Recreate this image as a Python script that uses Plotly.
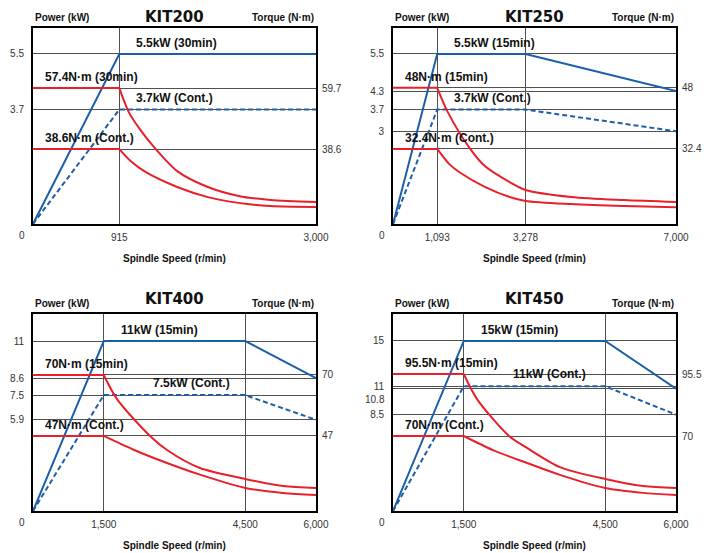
import plotly.graph_objects as go

# ---------------- data ----------------
panel_titles = ["KIT200", "KIT250", "KIT400", "KIT450"]

# KIT200
k200_pw_speed = [0, 915, 3000]
k200_pw_short = [0, 5.5, 5.5]
k200_pw_cont = [0, 3.7, 3.7]
k200_tq_short_speed = [0, 915, 1014, 1132, 1290, 1528, 1854, 2180, 2516, 3000]
k200_tq_short = [59.7, 59.7, 51.5, 45.5, 39.0, 31.0, 25.5, 22.4, 21.0, 20.3]
k200_tq_cont_speed = [0, 915, 1034, 1192, 1528, 1854, 2180, 2516, 3000]
k200_tq_cont = [38.6, 38.6, 34.5, 30.7, 25.5, 22.0, 20.0, 18.9, 18.6]
k200_speed_ticks = [915, 3000]
k200_speed_labels = ["915", "3,000"]
k200_power_ticks = [3.7, 5.5]
k200_power_labels = ["3.7", "5.5"]
k200_torque_ticks = [38.6, 59.7]
k200_torque_labels = ["38.6", "59.7"]
k200_texts = ["5.5kW (30min)", "3.7kW (Cont.)", "57.4N·m (30min)", "38.6N·m (Cont.)"]

# KIT250
k250_pw_speed = [0, 1093, 3278, 7000]
k250_pw_short = [0, 5.5, 5.5, 4.3]
k250_pw_cont = [0, 3.7, 3.7, 3.0]
k250_tq_short_speed = [0, 1093, 1355, 1896, 2270, 2886, 3278, 4414, 5707, 7000]
k250_tq_short = [48.0, 48.0, 41.8, 32.6, 28.0, 23.9, 21.9, 20.1, 19.3, 18.8]
k250_tq_cont_speed = [0, 1093, 1392, 1635, 2270, 2886, 3278, 4414, 5707, 7000]
k250_tq_cont = [32.4, 32.4, 28.5, 26.5, 22.7, 20.1, 19.1, 18.3, 17.8, 17.5]
k250_speed_ticks = [1093, 3278, 7000]
k250_speed_labels = ["1,093", "3,278", "7,000"]
k250_power_ticks = [3.0, 3.7, 4.3, 5.5]
k250_power_labels = ["3", "3.7", "4.3", "5.5"]
k250_torque_ticks = [32.4, 48.0]
k250_torque_labels = ["32.4", "48"]
k250_texts = ["5.5kW (15min)", "3.7kW (Cont.)", "48N·m (15min)", "32.4N·m (Cont.)"]

# KIT400
k400_pw_speed = [0, 1500, 4500, 6000]
k400_pw_short = [0, 11.0, 11.0, 8.6]
k400_pw_cont = [0, 7.5, 7.5, 5.9]
k400_tq_short_speed = [0, 1500, 1781, 2481, 2841, 3541, 4500, 5300, 6000]
k400_tq_short = [70.0, 70.0, 60.9, 47.0, 41.7, 34.9, 30.8, 28.1, 27.4]
k400_tq_cont_speed = [0, 1500, 2120, 2841, 3541, 4500, 5300, 6000]
k400_tq_cont = [47.0, 47.0, 41.9, 36.8, 32.4, 27.4, 25.5, 24.7]
k400_speed_ticks = [1500, 4500, 6000]
k400_speed_labels = ["1,500", "4,500", "6,000"]
k400_power_ticks = [5.9, 7.5, 8.6, 11.0]
k400_power_labels = ["5.9", "7.5", "8.6", "11"]
k400_torque_ticks = [47.0, 70.0]
k400_torque_labels = ["47", "70"]
k400_texts = ["11kW (15min)", "7.5kW (Cont.)", "70N·m (15min)", "47N·m (Cont.)"]

# KIT450
k450_pw_speed = [0, 1500, 4500, 6000]
k450_pw_short = [0, 15.0, 15.0, 10.8]
k450_pw_cont = [0, 11.0, 11.0, 8.5]
k450_tq_short_speed = [0, 1500, 1781, 2459, 2841, 3540, 4500, 5300, 6000]
k450_tq_short = [95.5, 95.5, 85.2, 70.0, 65.1, 57.2, 52.3, 49.4, 48.6]
k450_tq_cont_speed = [0, 1500, 2120, 2841, 3540, 4500, 5300, 6000]
k450_tq_cont = [70.0, 70.0, 64.2, 58.9, 54.0, 48.6, 46.6, 45.7]
k450_speed_ticks = [1500, 4500, 6000]
k450_speed_labels = ["1,500", "4,500", "6,000"]
k450_power_ticks = [8.5, 10.8, 11.0, 15.0]
k450_power_labels = ["8.5", "", "11", "15"]
k450_torque_ticks = [70.0, 95.5]
k450_torque_labels = ["70", "95.5"]
k450_texts = ["15kW (15min)", "11kW (Cont.)", "95.5N·m (15min)", "70N·m (Cont.)"]

# ---------------- styling / layout ----------------
BLUE = "#1c5ea8"
RED = "#e8202a"
GRID = "#505050"
TICK_FONT = dict(family="Liberation Sans, Arial, sans-serif", size=10, color="#333333")
LBL_FONT = dict(family="Liberation Sans, Arial, sans-serif", size=12, color="#111111")
HDR_FONT = dict(family="Liberation Sans, Arial, sans-serif", size=10, color="#111111")
TTL_FONT = dict(family="DejaVu Sans, sans-serif", size=15, color="#111111")

panels = [
    dict(title=panel_titles[0], pw_speed=k200_pw_speed, pw_short=k200_pw_short, pw_cont=k200_pw_cont,
         tqs_x=k200_tq_short_speed, tqs_y=k200_tq_short, tqc_x=k200_tq_cont_speed, tqc_y=k200_tq_cont,
         sp_t=k200_speed_ticks, sp_l=k200_speed_labels, pw_t=k200_power_ticks, pw_l=k200_power_labels,
         tq_t=k200_torque_ticks, tq_l=k200_torque_labels, texts=k200_texts,
         xr=[0, 3000], pr=[0, 6.34], tr=[12.7, 80.5], cont_shift=15, title_shift=0),
    dict(title=panel_titles[1], pw_speed=k250_pw_speed, pw_short=k250_pw_short, pw_cont=k250_pw_cont,
         tqs_x=k250_tq_short_speed, tqs_y=k250_tq_short, tqc_x=k250_tq_cont_speed, tqc_y=k250_tq_cont,
         sp_t=k250_speed_ticks, sp_l=k250_speed_labels, pw_t=k250_power_ticks, pw_l=k250_power_labels,
         tq_t=k250_torque_ticks, tq_l=k250_torque_labels, texts=k250_texts,
         xr=[0, 7000], pr=[0, 6.34], tr=[13.2, 63.3], cont_shift=15, title_shift=0),
    dict(title=panel_titles[2], pw_speed=k400_pw_speed, pw_short=k400_pw_short, pw_cont=k400_pw_cont,
         tqs_x=k400_tq_short_speed, tqs_y=k400_tq_short, tqc_x=k400_tq_cont_speed, tqc_y=k400_tq_cont,
         sp_t=k400_speed_ticks, sp_l=k400_speed_labels, pw_t=k400_power_ticks, pw_l=k400_power_labels,
         tq_t=k400_torque_ticks, tq_l=k400_torque_labels, texts=k400_texts,
         xr=[0, 6000], pr=[0, 12.75], tr=[18.7, 93.0], cont_shift=47, title_shift=4),
    dict(title=panel_titles[3], pw_speed=k450_pw_speed, pw_short=k450_pw_short, pw_cont=k450_pw_cont,
         tqs_x=k450_tq_short_speed, tqs_y=k450_tq_short, tqc_x=k450_tq_cont_speed, tqc_y=k450_tq_cont,
         sp_t=k450_speed_ticks, sp_l=k450_speed_labels, pw_t=k450_power_ticks, pw_l=k450_power_labels,
         tq_t=k450_torque_ticks, tq_l=k450_torque_labels, texts=k450_texts,
         xr=[0, 6000], pr=[0, 17.38], tr=[39.15, 120.2], cont_shift=47, title_shift=4),
]

# the page places the figure 8px from the top-left corner, so the figure is 703x545
XD = [[0.0356, 0.4381], [0.5477, 0.9502], [0.0356, 0.4381], [0.5477, 0.9502]]
YD = [[0.6037, 0.9633], [0.6037, 0.9633], [0.0771, 0.4385], [0.0771, 0.4385]]

fig = go.Figure()
layout = dict(
    width=703, height=545, margin=dict(l=0, r=0, t=0, b=0),
    paper_bgcolor="white", plot_bgcolor="white", showlegend=False,
    template="none",
)
annotations = []

for i, p in enumerate(panels):
    n = i + 1
    xa = "x" if n == 1 else f"x{n}"
    ya = "y" if n == 1 else f"y{n}"
    ta = f"y{n + 4}"
    xname = "xaxis" if n == 1 else f"xaxis{n}"
    yname = "yaxis" if n == 1 else f"yaxis{n}"
    tname = f"yaxis{n + 4}"

    layout[xname] = dict(domain=XD[i], anchor=ya, range=p["xr"], tickvals=p["sp_t"], ticktext=p["sp_l"],
                         showgrid=True, gridcolor=GRID, gridwidth=1, zeroline=False, ticks="",
                         showline=True, linecolor="black", linewidth=2, mirror=True,
                         tickfont=TICK_FONT, ticklabelstandoff=3, automargin=False, fixedrange=True)
    layout[yname] = dict(domain=YD[i], anchor=xa, range=p["pr"], tickvals=p["pw_t"], ticktext=p["pw_l"],
                         showgrid=True, gridcolor=GRID, gridwidth=1, zeroline=False, ticks="",
                         showline=True, linecolor="black", linewidth=2, mirror=True,
                         tickfont=TICK_FONT, ticklabelstandoff=5, automargin=False, fixedrange=True)
    layout[tname] = dict(overlaying=ya, anchor=xa, side="right", range=p["tr"], tickvals=p["tq_t"],
                         ticktext=p["tq_l"], showgrid=True, gridcolor=GRID, gridwidth=1, zeroline=False,
                         ticks="", showline=False, tickfont=TICK_FONT, ticklabelstandoff=5,
                         automargin=False, fixedrange=True)

    # power curves
    fig.add_trace(go.Scatter(x=p["pw_speed"], y=p["pw_short"], mode="lines", xaxis=xa, yaxis=ya,
                             line=dict(color=BLUE, width=2), hoverinfo="skip"))
    fig.add_trace(go.Scatter(x=p["pw_speed"], y=p["pw_cont"], mode="lines", xaxis=xa, yaxis=ya,
                             line=dict(color=BLUE, width=2, dash="5px,3px"), hoverinfo="skip"))
    # torque curves: flat part + decaying part
    for sx, sy in ((p["tqs_x"], p["tqs_y"]), (p["tqc_x"], p["tqc_y"])):
        fig.add_trace(go.Scatter(x=sx[:2], y=sy[:2], mode="lines", xaxis=xa, yaxis=ta,
                                 line=dict(color=RED, width=2), hoverinfo="skip"))
        fig.add_trace(go.Scatter(x=sx[1:], y=sy[1:], mode="lines", xaxis=xa, yaxis=ta,
                                 line=dict(color=RED, width=2, shape="spline", smoothing=0.8),
                                 hoverinfo="skip"))

    base = p["pw_speed"][1]
    t = p["texts"]
    annotations += [
        dict(x=base, y=p["pw_short"][1], xref=xa, yref=ya, text=f"<b>{t[0]}</b>", showarrow=False,
             xanchor="left", yanchor="bottom", xshift=15, yshift=2, font=LBL_FONT),
        dict(x=base, y=p["pw_cont"][1], xref=xa, yref=ya, text=f"<b>{t[1]}</b>", showarrow=False,
             xanchor="left", yanchor="bottom", xshift=p["cont_shift"], yshift=3, font=LBL_FONT),
        dict(x=0, y=p["tqs_y"][0], xref=xa, yref=ta, text=f"<b>{t[2]}</b>", showarrow=False,
             xanchor="left", yanchor="bottom", xshift=10, yshift=2, font=LBL_FONT),
        dict(x=0, y=p["tqc_y"][0], xref=xa, yref=ta, text=f"<b>{t[3]}</b>", showarrow=False,
             xanchor="left", yanchor="bottom", xshift=10, yshift=2, font=LBL_FONT),
        # headers
        dict(x=0, y=1, xref=f"{xa} domain", yref=f"{ya} domain", text="<b>Power (kW)</b>",
             showarrow=False, xanchor="left", yanchor="bottom", yshift=3, font=HDR_FONT),
        dict(x=1, y=1, xref=f"{xa} domain", yref=f"{ya} domain", text="<b>Torque (N·m)</b>",
             showarrow=False, xanchor="right", yanchor="bottom", yshift=3, font=HDR_FONT),
        dict(x=0.5, y=1, xref=f"{xa} domain", yref=f"{ya} domain", text=f"<b>{p['title']}</b>",
             showarrow=False, xanchor="center", yanchor="bottom", yshift=p["title_shift"], font=TTL_FONT),
        dict(x=0.5, y=0, xref=f"{xa} domain", yref=f"{ya} domain", text="<b>Spindle Speed (r/min)</b>",
             showarrow=False, xanchor="center", yanchor="top", yshift=-27, font=HDR_FONT),
        # shared origin label
        dict(x=0, y=0, xref=f"{xa} domain", yref=f"{ya} domain", text="0", showarrow=False,
             xanchor="right", yanchor="top", xshift=-6, yshift=-4, font=TICK_FONT),
    ]

# KIT450: "10.8" tick label placed just below the nearly coincident "11" label
annotations.append(dict(x=0, y=k450_pw_short[3], xref="x4 domain", yref="y4", text="10.8", showarrow=False,
                        xanchor="right", yanchor="middle", xshift=-6, yshift=-11, font=TICK_FONT))

layout["annotations"] = annotations
fig.update_layout(**layout)
fig.write_html("out.html")
